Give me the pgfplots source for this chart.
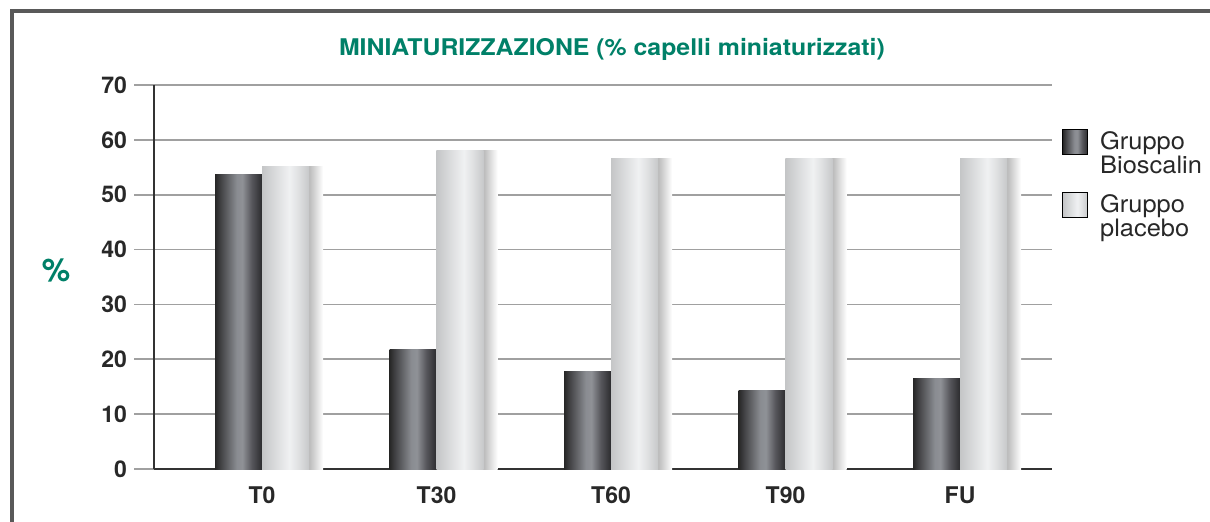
\documentclass[border=0pt]{standalone}
\usepackage{fontspec}
\setmainfont{TeX Gyre Heros}
\newfontfamily\titlefont[FakeStretch=1.08]{TeX Gyre Heros}
\newfontfamily\legfont[FakeStretch=1.06]{TeX Gyre Heros}
\usepackage{pgfplots}
\usepackage{pgfplotstable}
\pgfplotsset{compat=1.18}
\definecolor{titlegreen}{RGB}{0,128,104}
\definecolor{gridgray}{RGB}{160,160,160}
\definecolor{axisdark}{RGB}{50,50,50}
\definecolor{labeldark}{RGB}{40,40,40}
\pgfdeclarehorizontalshading{darkbar}{100bp}{rgb(0bp)=(.15,.15,.15); rgb(25bp)=(.15,.15,.15); rgb(31bp)=(.26,.26,.27); rgb(48bp)=(.54,.55,.57); rgb(54bp)=(.56,.57,.59); rgb(64bp)=(.34,.34,.36); rgb(75bp)=(.17,.17,.18); rgb(100bp)=(.17,.17,.18)}
\pgfdeclarehorizontalshading{lightbar}{100bp}{rgb(0bp)=(.77,.775,.78); rgb(25bp)=(.77,.775,.78); rgb(40bp)=(.86,.865,.87); rgb(54bp)=(.94,.945,.95); rgb(63bp)=(.88,.885,.89); rgb(75bp)=(.78,.785,.79); rgb(100bp)=(.78,.785,.79)}
\pgfdeclarehorizontalshading{shadowbar}{100bp}{rgb(0bp)=(.72,.72,.72); rgb(60bp)=(.72,.72,.72); rgb(64bp)=(.74,.74,.74); rgb(75bp)=(1,1,1); rgb(100bp)=(1,1,1)}

\pgfplotstableread{
x bio plac
0 53.6 55.1
1 21.8 58.1
2 17.7 56.6
3 14.3 56.6
4 16.5 56.6
}\datatable

\pgfplotsset{onlyindex/.style={x filter/.code={\ifnum\coordindex=#1\relax\else\def\pgfmathresult{}\fi}}}

\begin{document}
\begin{tikzpicture}
\begin{axis}[
  at={(0,0)}, anchor=south west,
  scale only axis, width=449pt, height=192pt,
  xmin=-0.619, xmax=4.527, ymin=0, ymax=70,
  xtick={0,...,4}, xticklabels={T0,T30,T60,T90,FU},
  ytick={0,10,...,70},
  axis lines*=left,
  axis line style={draw=axisdark, line width=1pt},
  ymajorgrids, grid style={draw=gridgray, line width=0.9pt},
  tick align=outside, major tick length=10pt,
  ytick style={draw=gridgray, line width=0.9pt},
  xtick style={draw=none},
  /pgf/number format/assume math mode=true,
  ticklabel style={font=\fontsize{11.5}{13}\selectfont\bfseries, text=labeldark},
  xticklabel style={yshift=4.5pt},
  title={MINIATURIZZAZIONE (\% capelli miniaturizzati)},
  title style={at={(0.51,1.062)}, anchor=center, yshift=0pt, font=\titlefont\bfseries\fontsize{11.5}{13}\selectfont, text=titlegreen},
  ylabel={\%},
  ylabel style={at={(axis description cs:-0.109,0.518)}, rotate=-90, anchor=center, font=\bfseries\fontsize{16}{18}\selectfont, text=titlegreen},
  legend style={at={(1.0111,0.8906)}, anchor=north west, draw=none, fill=none, inner sep=0pt, row sep=17pt, column sep=4pt, font=\legfont\fontsize{12}{11.5}\selectfont, text=labeldark},
  legend cell align=left,
]
\pgfplotsinvokeforeach{0,...,4}{
  \addplot[ybar, bar width=30.5pt, bar shift=15.25pt, draw=none, shade, shading=shadowbar, forget plot,
    onlyindex=#1] table[x=x, y=plac] {\datatable};
  \addplot[ybar, bar width=23.5pt, bar shift=-11.75pt, draw=none, shade, shading=darkbar, forget plot,
    onlyindex=#1] table[x=x, y=bio] {\datatable};
  \addplot[ybar, bar width=23.5pt, bar shift=11.75pt, draw=none, shade, shading=lightbar, forget plot,
    onlyindex=#1] table[x=x, y=plac] {\datatable};
}
\addlegendimage{legend image code/.code={\shade[shading=darkbar] (0pt,-6.25pt) rectangle (12.5pt,6.25pt);}}
\addlegendentry{\begin{tabular}[t]{@{}l@{}}Gruppo\\Bioscalin\end{tabular}}
\addlegendimage{legend image code/.code={\shade[shading=lightbar] (0pt,-6.25pt) rectangle (12.5pt,6.25pt);}}
\addlegendentry{\begin{tabular}[t]{@{}l@{}}Gruppo\\placebo\end{tabular}}
\end{axis}
\draw[line width=1.7pt, draw=black!65] (-71pt,-40pt) -- (-71pt,229pt) -- (560pt,229pt);
\pgfresetboundingbox
\path[use as bounding box] (-77pt,-26pt) rectangle (528pt,234.5pt);
\end{tikzpicture}
\end{document}
